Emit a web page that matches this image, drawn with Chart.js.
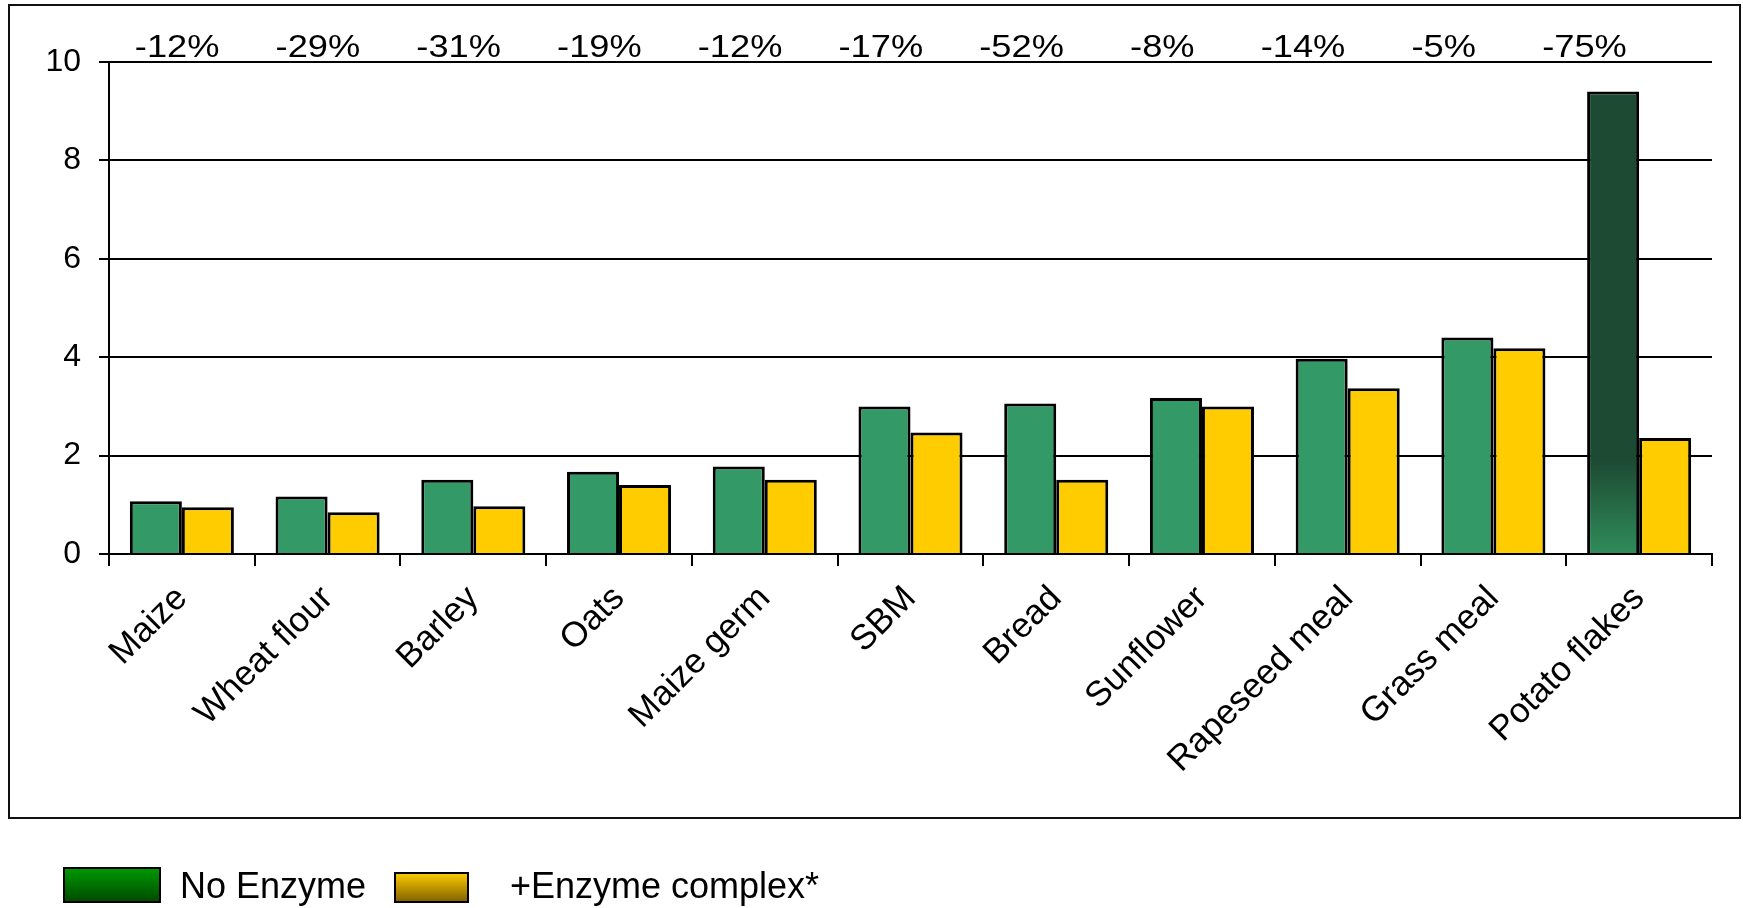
<!DOCTYPE html>
<html>
<head>
<meta charset="utf-8">
<title>Enzyme effect by ingredient</title>
<script src="https://cdn.jsdelivr.net/npm/chart.js@4"></script>
<style>
  html, body { margin: 0; padding: 0; background: #fff; }
  #wrap { width: 1743px; height: 908px; position: relative; }
</style>
</head>
<body>
<div id="wrap"><canvas id="enzymeChart"></canvas></div>
<script>
// Data
const categories = ["Maize", "Wheat flour", "Barley", "Oats", "Maize germ", "SBM",
  "Bread", "Sunflower", "Rapeseed meal", "Grass meal", "Potato flakes"];
const noEnzyme = [1.07, 1.17, 1.51, 1.67, 1.78, 3.0, 3.06, 3.17, 3.97, 4.4, 9.4];
const withEnzyme = [0.95, 0.85, 0.97, 1.4, 1.51, 2.47, 1.51, 3.0, 3.37, 4.18, 2.36];
const changeLabels = ["-12%", "-29%", "-31%", "-19%", "-12%", "-17%", "-52%", "-8%", "-14%", "-5%", "-75%"];
const yTicks = [0, 2, 4, 6, 8, 10];

const FONT = "'Liberation Sans', Arial, sans-serif";
const GREEN = "#339966";
const YELLOW = "#FFCC00";

// Potato flakes bar fades from dark green to a lighter green near the base
function greenFill(ctx) {
  if (ctx.dataIndex !== categories.length - 1) return GREEN;
  const chart = ctx.chart;
  const area = chart.chartArea;
  if (!area) return "#1D4A33";
  const y = chart.scales.y;
  const g = chart.ctx.createLinearGradient(0, y.getPixelForValue(1.9), 0, area.bottom);
  g.addColorStop(0, "#1D4A33");
  g.addColorStop(1, "#2F8C5A");
  return g;
}

// Frame, percentage row and legend
const decorations = {
  id: "decorations",
  beforeDraw(chart) {
    const c = chart.ctx;
    c.save();
    c.fillStyle = "#fff";
    c.fillRect(0, 0, chart.width, chart.height);
    c.strokeStyle = "#111";
    c.lineWidth = 2;
    c.strokeRect(9, 5, 1731, 813);
    c.restore();
  },
  afterDraw(chart) {
    const c = chart.ctx;
    const x = chart.scales.x;
    const top = chart.chartArea.top;

    // reduction labels above the plot
    c.save();
    c.fillStyle = "#000";
    c.font = "31px " + FONT;
    c.textAlign = "center";
    c.textBaseline = "alphabetic";
    changeLabels.forEach((txt, i) => {
      const px = x.getPixelForValue(i * 0.9657 - 0.032);
      c.save();
      c.translate(px, top - 5);
      c.scale(1.17, 1);
      c.fillText(txt, 0, 0);
      c.restore();
    });
    c.restore();

    // legend
    const items = [
      { label: chart.data.datasets[0].label, box: [64, 868, 96, 34], top: "#009900", bottom: "#004A00", tx: 180 },
      { label: chart.data.datasets[1].label, box: [395, 873, 73, 29], top: "#FFCC00", bottom: "#806000", tx: 510 }
    ];
    c.save();
    items.forEach(it => {
      const [bx, by, bw, bh] = it.box;
      const g = c.createLinearGradient(0, by, 0, by + bh);
      g.addColorStop(0, it.top);
      g.addColorStop(1, it.bottom);
      c.fillStyle = g;
      c.fillRect(bx, by, bw, bh);
      c.strokeStyle = "#000";
      c.lineWidth = 2;
      c.strokeRect(bx, by, bw, bh);
      c.fillStyle = "#000";
      c.font = "36px " + FONT;
      c.textAlign = "left";
      c.textBaseline = "middle";
      c.fillText(it.label, it.tx, 888);
    });
    c.restore();
  }
};

new Chart(document.getElementById("enzymeChart"), {
  type: "bar",
  data: {
    labels: categories,
    datasets: [
      {
        label: "No Enzyme",
        data: noEnzyme,
        backgroundColor: greenFill,
        borderColor: "#000",
        borderWidth: 3
      },
      {
        label: "+Enzyme complex*",
        data: withEnzyme,
        backgroundColor: YELLOW,
        borderColor: "#000",
        borderWidth: 3
      }
    ]
  },
  options: {
    responsive: true,
    maintainAspectRatio: false,
    animation: false,
    layout: { padding: { top: 62, right: 31, left: 0, bottom: 0 } },
    plugins: {
      legend: { display: false },
      tooltip: { enabled: false }
    },
    datasets: {
      bar: { categoryPercentage: 0.714, barPercentage: 1 }
    },
    scales: {
      x: {
        grid: {
          offset: true,
          drawOnChartArea: false,
          color: "#000",
          lineWidth: 2,
          tickLength: 12
        },
        border: { display: true, color: "#000", width: 2 },
        ticks: {
          autoSkip: false,
          minRotation: 45,
          maxRotation: 45,
          padding: 12,
          color: "#000",
          font: { family: FONT, size: 35 }
        },
        afterFit(scale) { scale.height = 354; }
      },
      y: {
        min: 0,
        max: 10,
        afterBuildTicks(scale) { scale.ticks = yTicks.map(v => ({ value: v })); },
        grid: {
          color: "#000",
          lineWidth: 2,
          tickLength: 10
        },
        border: { display: true, color: "#000", width: 2 },
        ticks: {
          padding: 18,
          color: "#000",
          font: { family: FONT, size: 32 }
        },
        afterFit(scale) { scale.width = 109; }
      }
    }
  },
  plugins: [decorations]
});
</script>
</body>
</html>
